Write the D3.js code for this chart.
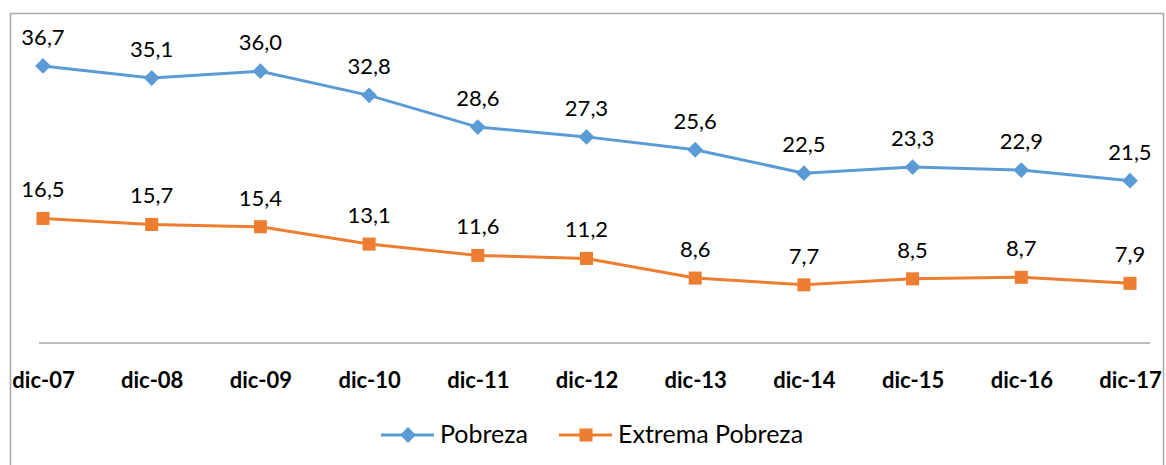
<!DOCTYPE html>
<html>
<head>
<meta charset="utf-8">
<script src="https://cdn.jsdelivr.net/npm/d3@7"></script>
<style>
  body { margin: 0; background: #fff; }
  svg { display: block; font-family: Lato, "Open Sans", sans-serif; }
</style>
</head>
<body>
<svg width="1166" height="465"></svg>
<script>
const categories = ["dic-07", "dic-08", "dic-09", "dic-10", "dic-11", "dic-12", "dic-13", "dic-14", "dic-15", "dic-16", "dic-17"];
const pobreza = [36.7, 35.1, 36.0, 32.8, 28.6, 27.3, 25.6, 22.5, 23.3, 22.9, 21.5];
const extrema = [16.5, 15.7, 15.4, 13.1, 11.6, 11.2, 8.6, 7.7, 8.5, 8.7, 7.9];
const seriesNames = ["Pobreza", "Extrema Pobreza"];

const svg = d3.select("svg");
const width = +svg.attr("width");
const height = +svg.attr("height");

const blue = "#5b9bd5";
const orange = "#ed7d31";
const fmt = v => d3.format(".1f")(v).replace(".", ",");

// chart frame
svg.append("rect")
  .attr("x", 10.5).attr("y", 13.5)
  .attr("width", 1153).attr("height", 470)
  .attr("fill", "none")
  .attr("stroke", "#a6a6a6")
  .attr("stroke-width", 1.5);

const xScale = d3.scalePoint()
  .domain(categories)
  .range([43, 1130]);

const yScale = d3.scaleLinear()
  .domain([0, 40])
  .range([343, 41]);

// category axis
const xAxis = d3.axisBottom(xScale).tickSize(0).tickPadding(0);
const xAxisG = svg.append("g")
  .attr("transform", `translate(0, ${yScale(0)})`)
  .call(xAxis);
xAxisG.select(".domain").remove();
xAxisG.append("line")
  .attr("x1", 39).attr("x2", 1150)
  .attr("stroke", "#a6a6a6")
  .attr("stroke-width", 1.5);
xAxisG.selectAll(".tick text")
  .attr("y", 45)
  .attr("dy", null)
  .attr("font-size", 22)
  .attr("font-weight", "bold")
  .attr("font-family", "Lato, sans-serif")
  .attr("fill", "#000");

const line = d3.line()
  .x((d, i) => xScale(categories[i]))
  .y(d => yScale(d));

// diamond = square turned 45 degrees
const series = [
  { name: seriesNames[0], values: pobreza, color: blue, size: 125, rotate: 45 },
  { name: seriesNames[1], values: extrema, color: orange, size: 170, rotate: 0 }
];

series.forEach(s => {
  const g = svg.append("g");
  g.append("path")
    .datum(s.values)
    .attr("d", line)
    .attr("fill", "none")
    .attr("stroke", s.color)
    .attr("stroke-width", 3);

  g.selectAll("path.mark")
    .data(s.values)
    .enter()
    .append("path")
    .attr("class", "mark")
    .attr("d", d3.symbol(d3.symbolSquare, s.size))
    .attr("transform", (d, i) => `translate(${xScale(categories[i])}, ${yScale(d)}) rotate(${s.rotate})`)
    .attr("fill", s.color);

  g.selectAll("text")
    .data(s.values)
    .enter()
    .append("text")
    .attr("x", (d, i) => xScale(categories[i]))
    .attr("y", d => yScale(d) - 21)
    .attr("text-anchor", "middle")
    .attr("font-size", 22)
    .attr("fill", "#000")
    .text(fmt);
});

// legend
const legend = svg.append("g").attr("transform", "translate(0, 435)");
const legendX = [381, 559];
series.forEach((s, i) => {
  const lg = legend.append("g").attr("transform", `translate(${legendX[i]}, 0)`);
  lg.append("line")
    .attr("x1", 0).attr("x2", 53)
    .attr("stroke", s.color)
    .attr("stroke-width", 3);
  lg.append("path")
    .attr("d", d3.symbol(d3.symbolSquare, s.size))
    .attr("transform", `translate(27, 0) rotate(${s.rotate})`)
    .attr("fill", s.color);
  lg.append("text")
    .attr("x", 59)
    .attr("y", 8)
    .attr("font-size", 25)
    .attr("fill", "#000")
    .text(s.name);
});
</script>
</body>
</html>
